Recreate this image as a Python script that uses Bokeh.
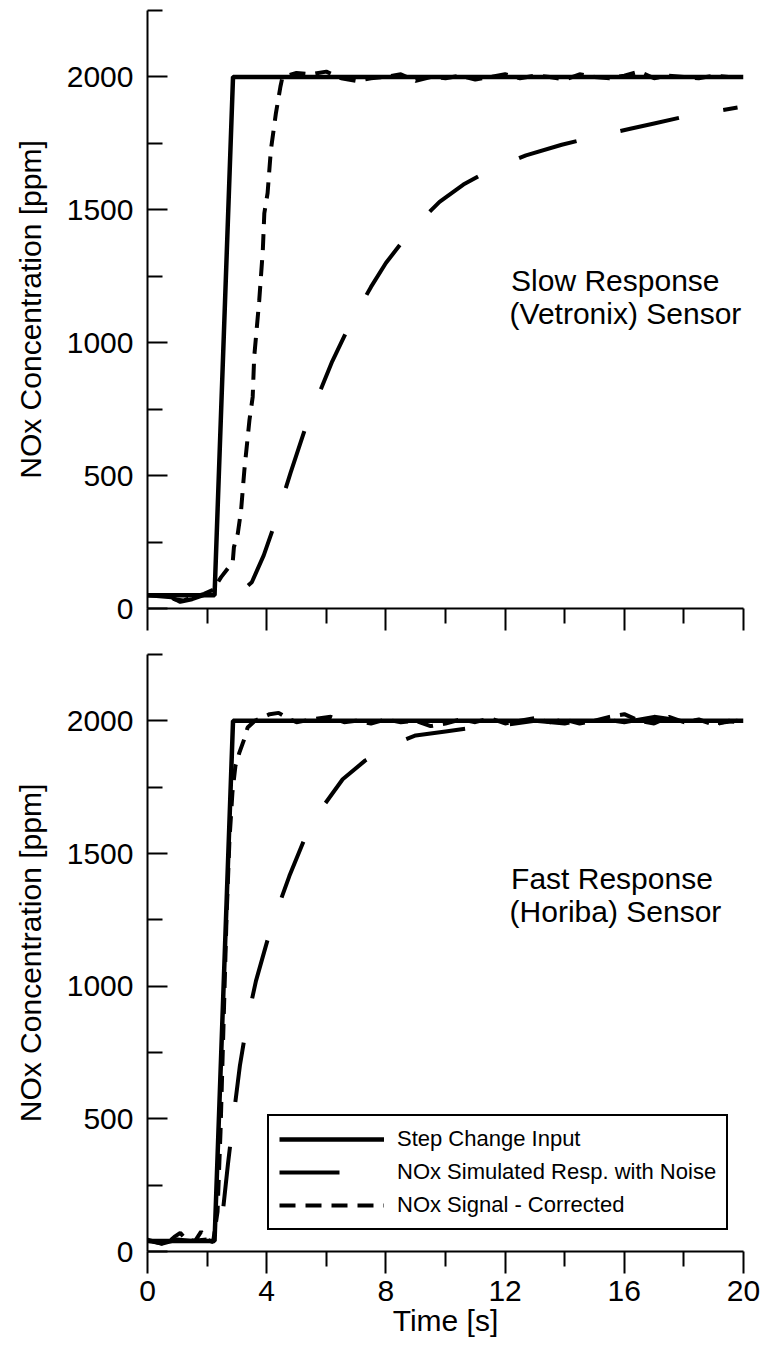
from bokeh.plotting import figure
from bokeh.models import FixedTicker, Label, Legend, LegendItem
from bokeh.layouts import column
from bokeh.embed import file_html
from bokeh.resources import INLINE

# ---------------- data ----------------
step_t = [0, 2.25, 2.87, 20]
step_top = [50, 50, 2000, 2000]
step_bot = [40, 40, 2000, 2000]

slow_noise_t = [0, 0.8, 1.1, 1.5, 2.0, 2.3, 2.8, 3.2, 3.5, 3.9, 4.23, 4.8, 5.3, 5.8, 6.2, 6.8,
                7.5, 8.0, 8.9, 9.8, 10.6, 11.5, 12.7, 13.9, 15.0, 16.2, 17.0, 18.2, 19.0, 19.8]
slow_noise_v = [50, 42, 25, 35, 55, 60, 60, 70, 99, 200, 306, 510, 680, 820, 930, 1070,
                1210, 1300, 1430, 1530, 1595, 1650, 1705, 1745, 1775, 1805, 1825, 1855, 1870, 1885]

slow_corr_t = [0, 0.5, 0.9, 1.2, 1.5, 1.9, 2.2, 2.47, 2.86, 2.9, 3.03, 3.14, 3.25, 3.42, 3.53,
               3.58, 3.75, 3.87, 3.92, 4.03, 4.14, 4.31, 4.46, 4.53, 5.0, 5.5, 6.0, 6.5, 7.0,
               7.5, 8.0, 8.5, 9.0, 9.5, 10.0, 10.5, 11.0, 11.5, 12.0, 12.5, 13.0, 13.5, 14.0,
               14.5, 15.0, 15.5, 16.0, 16.5, 17.0, 17.5, 18.0, 18.5, 19.0, 19.5, 19.8]
slow_corr_v = [50, 48, 35, 30, 42, 55, 70, 118, 174, 231, 282, 369, 520, 708, 796,
               946, 1160, 1348, 1487, 1563, 1725, 1864, 1963, 2000, 2015, 2010, 2020, 1995, 1985,
               1995, 2000, 2010, 1985, 2000, 1995, 2005, 1990, 2000, 2010, 1995, 2005, 2000, 1990,
               2010, 2000, 1995, 2005, 2020, 1995, 2005, 2000, 1995, 2005, 2000, 2000]

fast_noise_t = [0, 0.5, 1.0, 1.5, 2.0, 2.3, 2.5, 2.7, 2.9, 3.1, 3.35, 3.64, 4.17, 4.76, 5.49,
                6.55, 7.3, 8.11, 9.0, 10.0, 11.0, 12.0, 13.0, 14.0, 15.0, 16.0, 17.0, 18.0, 19.0, 19.8]
fast_noise_v = [40, 30, 45, 40, 45, 40, 120, 330, 520, 700, 870, 1020, 1230, 1415, 1615,
                1780, 1850, 1905, 1945, 1960, 1975, 1985, 2000, 1990, 2010, 1995, 2015, 2000, 1990, 2000]

fast_corr_t = [0, 0.3, 0.6, 0.9, 1.1, 1.3, 1.6, 1.8, 2.0, 2.2, 2.35, 2.45, 2.55, 2.65, 2.75,
               2.85, 2.95, 3.08, 3.25, 3.36, 3.6, 4.1, 4.4, 4.7, 5.0, 5.5, 6.15, 6.6, 7.0, 7.5,
               8.0, 8.5, 9.0, 9.5, 10.0, 10.5, 11.0, 11.5, 12.0, 12.5, 13.0, 13.5, 14.0, 14.5,
               15.0, 15.5, 16.0, 16.5, 17.0, 17.5, 18.0, 18.5, 19.0, 19.5, 19.8]
fast_corr_v = [45, 35, 25, 55, 70, 45, 40, 75, 45, 35, 150, 450, 850, 1250, 1550,
               1730, 1830, 1879, 1932, 1975, 2000, 2025, 2030, 2010, 1995, 2005, 2015, 1995, 2000, 1990,
               2005, 1995, 2000, 1980, 1990, 2005, 1995, 2010, 1990, 2000, 2010, 1995, 2005, 1990,
               2000, 2015, 2025, 2000, 1990, 2015, 1995, 2005, 1985, 2000, 1995]

x_major = [0, 4, 8, 12, 16, 20]
x_minor = [2, 6, 10, 14, 18]
y_major = [0, 500, 1000, 1500, 2000]
y_minor = [250, 750, 1250, 1750, 2250]

FONT = "Liberation Sans"
NOISE_DASH = "60 45"
CORR_DASH = "16 10"


def make_panel(top_border, bottom_border, frame_h, show_x_labels):
    p = figure(frame_width=596, frame_height=frame_h, x_range=(0, 20), y_range=(0, 2250),
               output_backend="svg", toolbar_location=None,
               min_border_left=147, min_border_right=20,
               min_border_top=top_border, min_border_bottom=bottom_border)
    p.outline_line_color = None
    p.grid.visible = False
    p.background_fill_color = "white"
    p.border_fill_color = "white"

    xa = p.xaxis[0]
    xa.ticker = FixedTicker(ticks=x_major, minor_ticks=x_minor)
    xa.axis_line_width = 2
    xa.axis_line_color = "black"
    xa.major_tick_line_width = 2
    xa.minor_tick_line_width = 2
    xa.major_tick_in = 0
    xa.major_tick_out = 22
    xa.minor_tick_in = 0
    xa.minor_tick_out = 15
    xa.major_label_text_font = FONT
    xa.major_label_text_color = "black"
    if show_x_labels:
        xa.major_label_text_font_size = "30px"
        xa.major_label_standoff = 7
        xa.axis_label = "Time [s]"
        xa.axis_label_text_font = FONT
        xa.axis_label_text_font_size = "30px"
        xa.axis_label_text_font_style = "normal"
        xa.axis_label_text_color = "black"
        xa.axis_label_standoff = 0
    else:
        xa.major_label_text_font_size = "0px"
        xa.major_label_text_color = None

    ya = p.yaxis[0]
    ya.ticker = FixedTicker(ticks=y_major, minor_ticks=y_minor)
    ya.axis_line_width = 2
    ya.axis_line_color = "black"
    ya.major_tick_line_width = 2
    ya.minor_tick_line_width = 2
    ya.major_tick_in = 20
    ya.major_tick_out = 0
    ya.minor_tick_in = 15
    ya.minor_tick_out = 0
    ya.major_label_text_font = FONT
    ya.major_label_text_font_size = "30px"
    ya.major_label_text_color = "black"
    ya.major_label_standoff = 14
    ya.axis_label = "NOx Concentration [ppm]"
    ya.axis_label_text_font = FONT
    ya.axis_label_text_font_size = "30px"
    ya.axis_label_text_font_style = "normal"
    ya.axis_label_text_color = "black"
    ya.axis_label_standoff = 17
    return p


def note(p, x, y, txt):
    p.add_layout(Label(x=x, y=y, text=txt, text_font=FONT, text_font_size="30px",
                       text_color="black", text_baseline="middle"))


p1 = make_panel(10, 40, 598, False)
p1.line(step_t, step_top, line_color="black", line_width=4.5)
p1.line(slow_noise_t, slow_noise_v, line_color="black", line_width=4, line_dash=NOISE_DASH)
p1.line(slow_corr_t, slow_corr_v, line_color="black", line_width=4, line_dash=CORR_DASH)
note(p1, 12.2, 1235, "Slow Response")
note(p1, 12.15, 1110, "(Vetronix) Sensor")

p2 = make_panel(6, 108, 597, True)
r_step = p2.line(step_t, step_bot, line_color="black", line_width=4.5)
r_noise = p2.line(fast_noise_t, fast_noise_v, line_color="black", line_width=4, line_dash=NOISE_DASH)
r_corr = p2.line(fast_corr_t, fast_corr_v, line_color="black", line_width=4, line_dash=CORR_DASH)
note(p2, 12.2, 1405, "Fast Response")
note(p2, 12.15, 1280, "(Horiba) Sensor")

legend = Legend(items=[
    LegendItem(label="Step Change Input", renderers=[r_step]),
    LegendItem(label="NOx Simulated Resp. with Noise", renderers=[r_noise]),
    LegendItem(label="NOx Signal - Corrected", renderers=[r_corr]),
], location=(120, 21))
legend.border_line_color = "black"
legend.border_line_alpha = 1
legend.border_line_width = 2
legend.background_fill_color = "white"
legend.background_fill_alpha = 1
legend.label_text_font = FONT
legend.label_text_font_size = "22px"
legend.label_text_color = "black"
legend.glyph_width = 105
legend.glyph_height = 24
legend.label_height = 26
legend.spacing = 7
legend.padding = 10
legend.margin = 0
legend.label_standoff = 13
p2.add_layout(legend, "center")

layout = column(p1, p2, spacing=0)
open("out.html", "w").write(file_html(layout, INLINE))
